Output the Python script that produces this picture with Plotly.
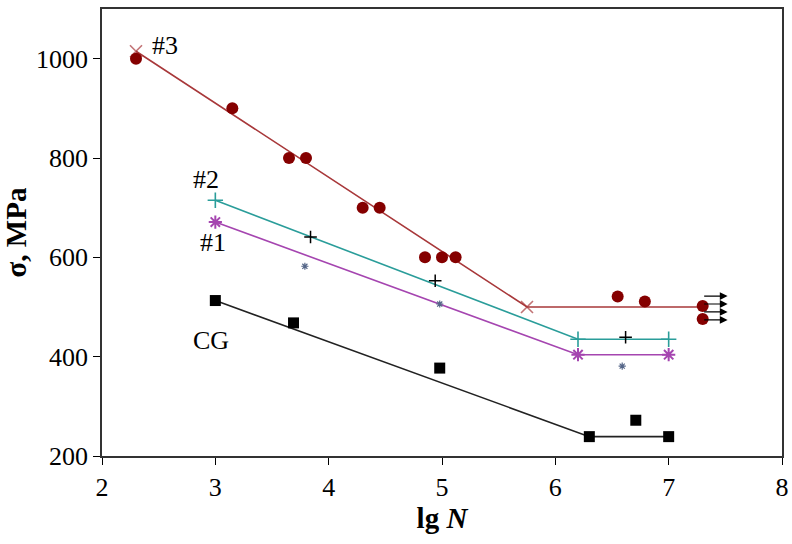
import plotly.graph_objects as go

# --- data ---
s3_x = [2.3, 3.15, 3.65, 3.8, 4.3, 4.45, 4.85, 5.0, 5.12, 6.55, 6.79, 7.3, 7.3]
s3_y = [1000, 900, 800, 800, 700, 700, 600, 600, 600, 521, 511, 502, 476]
s3_fit_x = [2.3, 5.75, 7.3]
s3_fit_y = [1015, 500, 500]

s2_x = [3.84, 4.94, 6.62]
s2_y = [641, 553, 439]
s2_fit_x = [3.0, 6.2, 7.0]
s2_fit_y = [715, 435, 435]

s1_x = [3.79, 4.98, 6.59]
s1_y = [582, 506, 381]
s1_fit_x = [3.0, 6.2, 7.0]
s1_fit_y = [671, 404, 404]

cg_x = [3.0, 3.69, 4.98, 6.3, 6.71, 7.0]
cg_y = [513, 468, 377, 239, 272, 239]
cg_fit_x = [3.0, 6.3, 7.0]
cg_fit_y = [513, 239, 239]

runout_y = [522, 506, 490, 474]
runout_x0, runout_x1 = 7.3, 7.52

labels = ["#3", "#2", "#1", "CG"]
label_x = [2.56, 2.92, 2.98, 2.96]
label_y = [1027, 756, 629, 432]

xticks = [2, 3, 4, 5, 6, 7, 8]
yticks = [200, 400, 600, 800, 1000]

RED_LINE = "#A8383A"
RED_PT = "#850000"
TEAL = "#2A9D9A"
PURPLE = "#A545B0"
FONT = "Liberation Serif, Times New Roman, serif"

fig = go.Figure()

# fitted lines
fig.add_trace(go.Scatter(x=cg_fit_x, y=cg_fit_y, mode="lines",
                         line=dict(color="#222222", width=1.6)))
fig.add_trace(go.Scatter(x=s1_fit_x, y=s1_fit_y, mode="lines+markers",
                         line=dict(color=PURPLE, width=1.6),
                         marker=dict(symbol="asterisk-open", size=11, color=PURPLE,
                                     line=dict(color=PURPLE, width=2))))
fig.add_trace(go.Scatter(x=s2_fit_x, y=s2_fit_y, mode="lines+markers",
                         line=dict(color=TEAL, width=1.6),
                         marker=dict(symbol="cross-thin-open", size=11, color=TEAL,
                                     line=dict(color=TEAL, width=1.6))))
fig.add_trace(go.Scatter(x=s3_fit_x, y=s3_fit_y, mode="lines+markers",
                         line=dict(color=RED_LINE, width=1.6),
                         marker=dict(symbol=["x-thin-open", "x-thin-open", "circle"],
                                     size=[12, 12, 0], color=RED_LINE,
                                     line=dict(color=RED_LINE, width=1.6))))

# experimental points
fig.add_trace(go.Scatter(x=cg_x, y=cg_y, mode="markers",
                         marker=dict(symbol="square", size=11, color="black")))
fig.add_trace(go.Scatter(x=s1_x, y=s1_y, mode="markers",
                         marker=dict(symbol="asterisk-open", size=6, color="#556688",
                                     line=dict(color="#556688", width=1.2))))
fig.add_trace(go.Scatter(x=s2_x, y=s2_y, mode="markers",
                         marker=dict(symbol="cross-thin-open", size=9, color="black",
                                     line=dict(color="black", width=1.5))))
fig.add_trace(go.Scatter(x=s3_x, y=s3_y, mode="markers",
                         marker=dict(symbol="circle", size=12, color=RED_PT)))

annotations = []
for ly in runout_y:
    annotations.append(dict(x=runout_x1, y=ly, ax=runout_x0, ay=ly,
                            xref="x", yref="y", axref="x", ayref="y",
                            text="", showarrow=True, arrowhead=2,
                            arrowsize=1.3, arrowwidth=1.2, arrowcolor="black"))
for t, lx, ly in zip(labels, label_x, label_y):
    annotations.append(dict(x=lx, y=ly, xref="x", yref="y", text=t,
                            showarrow=False,
                            font=dict(family=FONT, size=26, color="black")))

fig.update_layout(
    width=792, height=544,
    margin=dict(l=102, r=10, t=9, b=88, autoexpand=False),
    paper_bgcolor="white", plot_bgcolor="white",
    showlegend=False,
    font=dict(family=FONT, size=26, color="black"),
    annotations=annotations,
    xaxis=dict(range=[2, 8], tickvals=xticks, ticks="outside", ticklen=7,
               tickcolor="black", showline=True, linecolor="#333333",
               linewidth=1.5, mirror=True, showgrid=False, zeroline=False,
               automargin=False,
               tickfont=dict(family=FONT, size=26),
               title=dict(text="<b>lg <i>N</i></b>",
                          font=dict(family=FONT, size=29), standoff=6)),
    yaxis=dict(range=[200, 1100], tickvals=yticks, ticks="outside", ticklen=7,
               tickcolor="black", showline=True, linecolor="#333333",
               linewidth=1.5, mirror=True, showgrid=False, zeroline=False,
               automargin=False,
               tickfont=dict(family=FONT, size=26),
               title=dict(text="<b>σ, MPa</b>",
                          font=dict(family=FONT, size=29), standoff=2)),
)

fig.write_html("out.html")
